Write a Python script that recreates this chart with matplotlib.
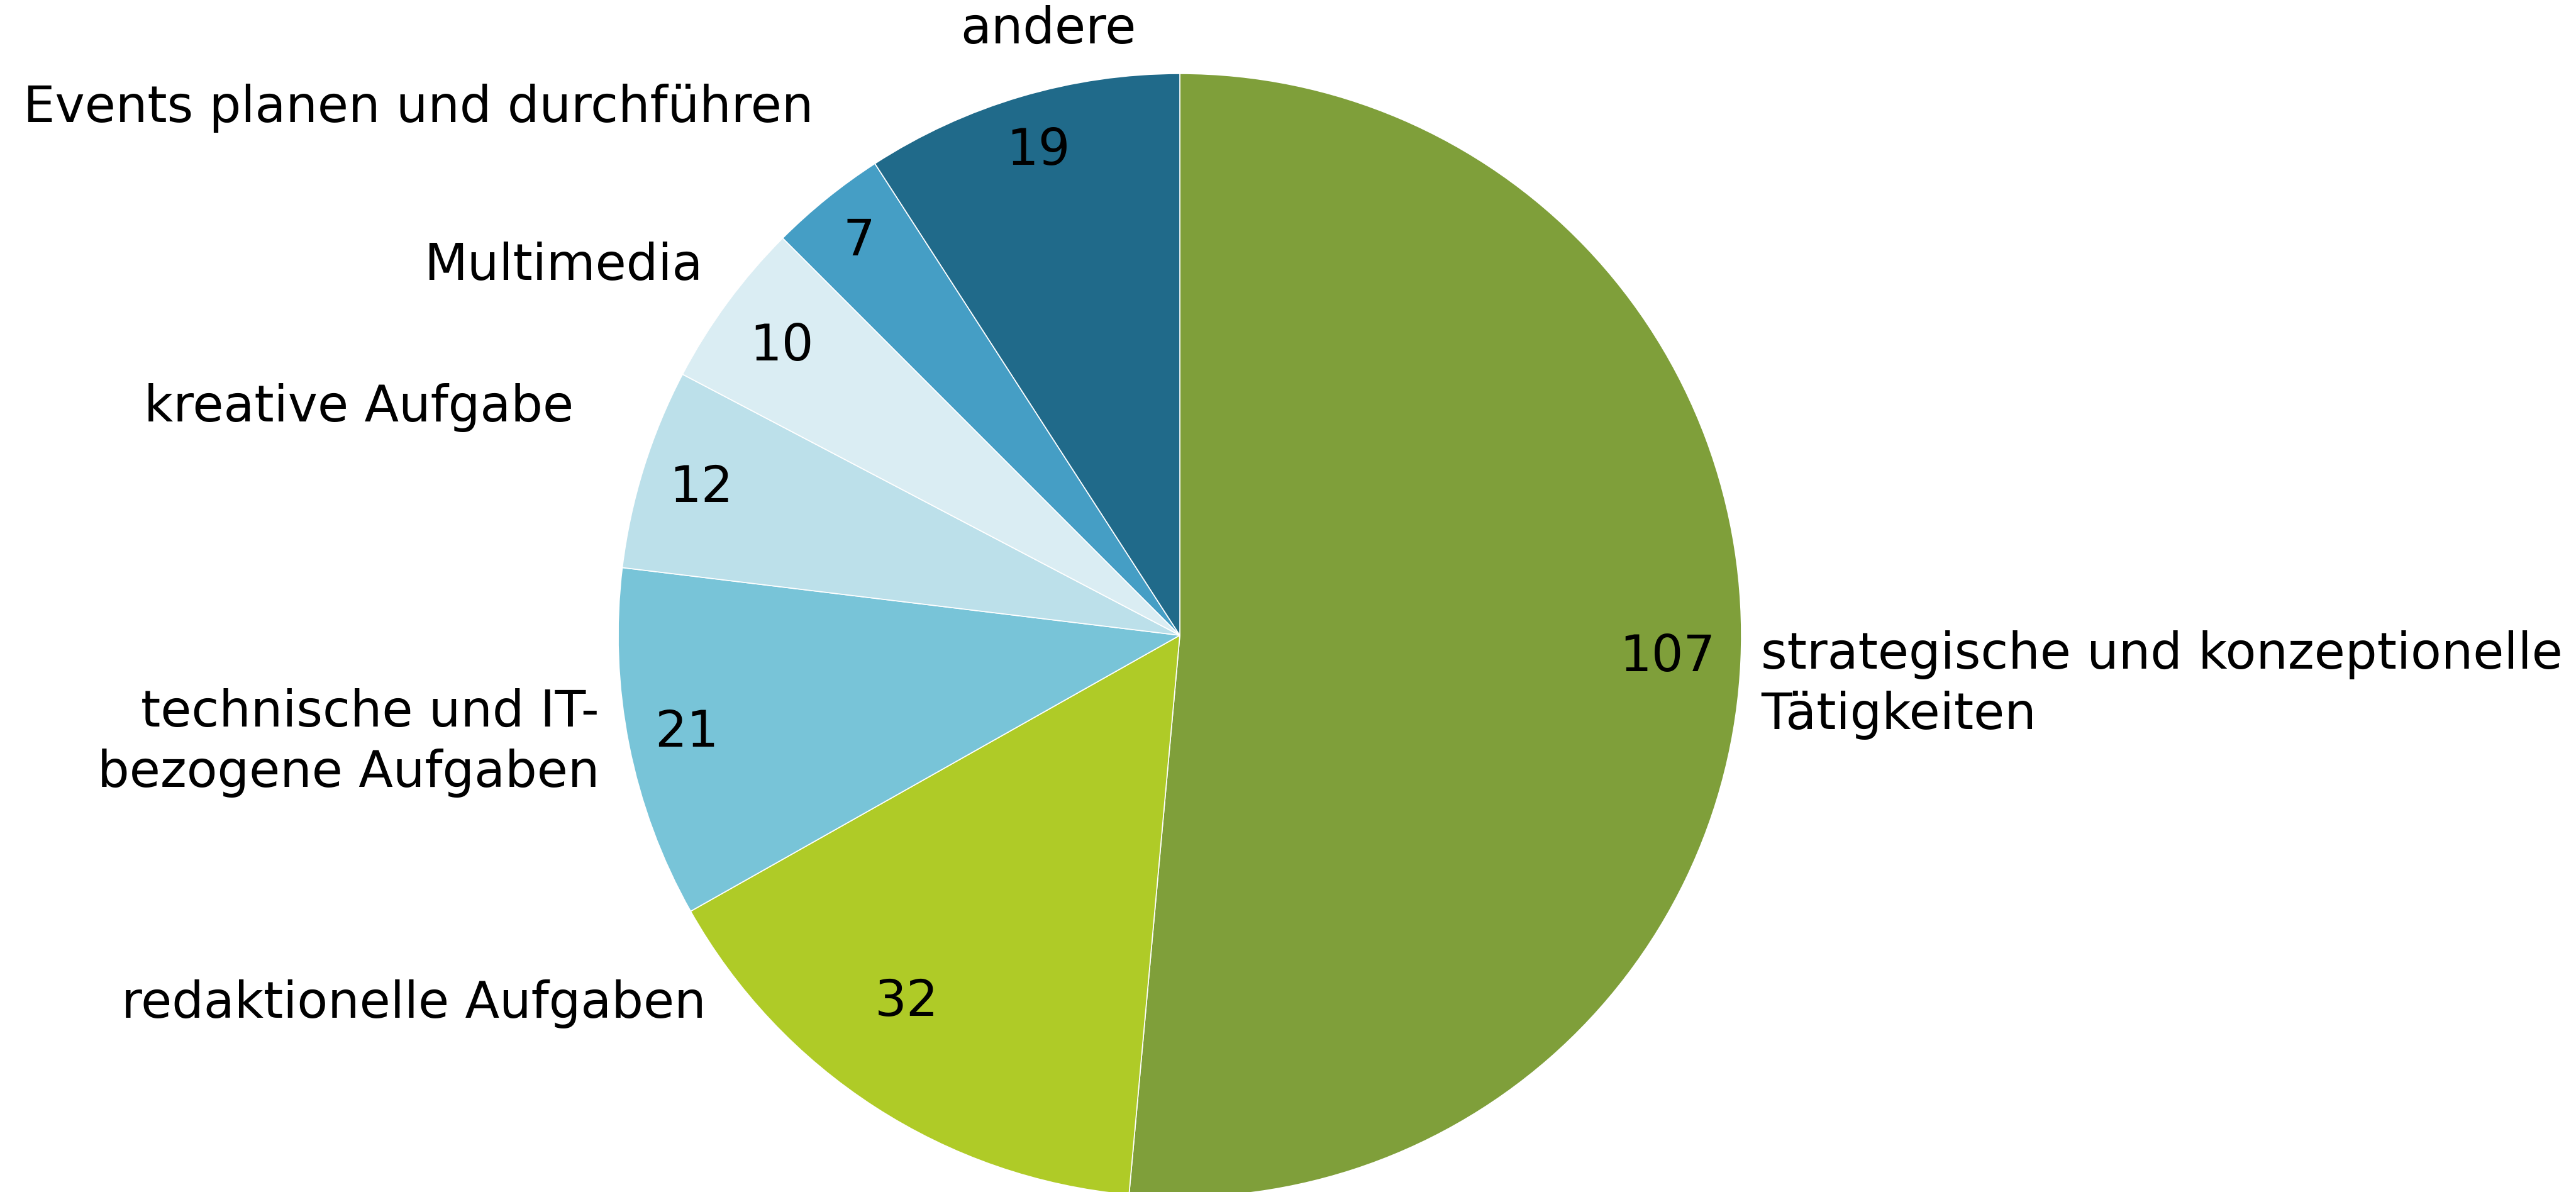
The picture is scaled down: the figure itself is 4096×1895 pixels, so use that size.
import matplotlib
matplotlib.use("Agg")
import matplotlib.pyplot as plt

categories = ["strategische und konzeptionelle\nTätigkeiten", "redaktionelle Aufgaben",
              "technische und IT-\nbezogene Aufgaben", "kreative Aufgabe", "Multimedia",
              "Events planen und durchführen", "andere"]
values = [107, 32, 21, 12, 10, 7, 19]
colors = ["#7F9F3A", "#AFCB27", "#78C4D8", "#BCE0EA", "#DAEDF3", "#459EC5", "#206A8A"]

W, H = 4096, 1895
fig = plt.figure(figsize=(W / 100, H / 100), dpi=100)
ax = fig.add_axes([0, 0, 1, 1])

cx, cy, R = 1876, 1010, 893
wedges, _ = ax.pie(values, colors=colors, startangle=90, counterclock=False,
                   center=(cx, H - cy), radius=R,
                   wedgeprops=dict(linewidth=1.2, edgecolor="white"))
ax.set_xlim(0, W)
ax.set_ylim(0, H)
ax.set_aspect("equal")
ax.axis("off")

fs = 57.5
val_pos = [(2651, 1045), (1442, 1593), (1092, 1165), (1115, 776), (1243, 551), (1366, 384), (1651, 240)]
for v, (x, y) in zip(values, val_pos):
    ax.text(x, H - y, str(v), fontsize=fs, ha="center", va="center", color="black")

cat_pos = [(2800, 1089, "left"), (1123, 1596, "right"), (953, 1181, "right"),
           (912, 648, "right"), (1118, 423, "right"), (1293, 172, "right"), (1667, 47, "center")]
for c, (x, y, ha) in zip(categories, cat_pos):
    ax.text(x, H - y, c, fontsize=fs, ha=ha, va="center", color="black", linespacing=1.3,
            multialignment=ha)

fig.savefig("out.png", dpi=100, facecolor="white")
